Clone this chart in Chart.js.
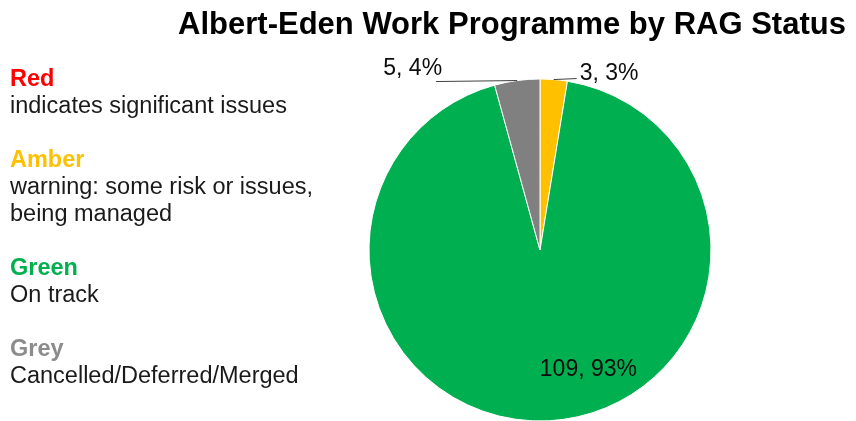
<!DOCTYPE html>
<html>
<head>
<meta charset="utf-8">
<title>Albert-Eden Work Programme by RAG Status</title>
<script src="https://cdn.jsdelivr.net/npm/chart.js@4.4.1/dist/chart.umd.min.js"></script>
<style>
  html, body { margin: 0; padding: 0; background: #fff; }
  #wrap { width: 856px; height: 421px; position: relative; }
</style>
</head>
<body>
<div id="wrap"><canvas id="ragChart"></canvas></div>
<script>
// RAG categories, their key text and project counts
const statuses = ['Red', 'Amber', 'Green', 'Grey'];
const descriptions = [
    ['indicates significant issues'],
    ['warning: some risk or issues,', 'being managed'],
    ['On track'],
    ['Cancelled/Deferred/Merged']
];
const projectCounts = [0, 3, 109, 5];
const sliceColours = ['#FF0000', '#FFC000', '#00B050', '#808080'];
const keyColours = ['#FF0000', '#FFC000', '#00B050', '#8C8C8C'];
const chartTitle = 'Albert-Eden Work Programme by RAG Status';

const FONT = '"Liberation Sans", Arial, sans-serif';

/**
 * Title, the status key on the left and the "count, %" labels
 */
const ragLabels = {
    id: 'ragLabels',
    afterDraw(chart) {
        const ctx = chart.ctx;
        const total = projectCounts.reduce((a, b) => a + b, 0);
        ctx.save();

        // Title
        ctx.fillStyle = '#000';
        ctx.font = 'bold 31px ' + FONT;
        ctx.textAlign = 'center';
        ctx.textBaseline = 'alphabetic';
        ctx.fillText(chartTitle, 512, 34);

        // Status key
        let y = 86;
        ctx.textAlign = 'left';
        statuses.forEach((name, i) => {
            ctx.font = 'bold 23.5px ' + FONT;
            ctx.fillStyle = keyColours[i];
            ctx.fillText(name, 10, y);
            ctx.font = '23.5px ' + FONT;
            ctx.fillStyle = '#1a1a1a';
            descriptions[i].forEach(line => {
                y += 27;
                ctx.fillText(line, 10, y);
            });
            y += 54;
        });

        // Data labels
        const meta = chart.getDatasetMeta(0);
        ctx.font = '23px ' + FONT;
        ctx.fillStyle = '#0d0d0d';
        ctx.strokeStyle = '#404040';
        ctx.lineWidth = 1;
        meta.data.forEach((arc, i) => {
            const value = projectCounts[i];
            if (!value) return;
            const text = value + ', ' + Math.round(value / total * 100) + '%';
            const mid = (arc.startAngle + arc.endAngle) / 2;
            const r = arc.outerRadius;

            if (value / total < 0.1) {
                // small slices: callout with a leader line from the rim
                const px = arc.x + Math.cos(mid) * r;
                const py = arc.y + Math.sin(mid) * r;
                const right = Math.cos(mid) >= 0;
                const ex = right ? px + 23 : px - 81;
                const ey = right ? py - 1 : py + 1;
                ctx.beginPath();
                ctx.moveTo(px, py);
                ctx.lineTo(ex, ey);
                ctx.stroke();
                if (right) {
                    ctx.textAlign = 'left';
                    ctx.fillText(text, ex + 3, ey + 1);
                } else {
                    ctx.textAlign = 'right';
                    ctx.fillText(text, ex + 6, ey - 7);
                }
            } else {
                const px = arc.x + Math.cos(mid) * r * 0.7 + 42;
                const py = arc.y + Math.sin(mid) * r * 0.7;
                ctx.textAlign = 'center';
                ctx.fillText(text, px, py + 6);
            }
        });
        ctx.restore();
    }
};

new Chart(document.getElementById('ragChart'), {
    type: 'pie',
    data: {
        labels: statuses,
        datasets: [{
            data: projectCounts,
            backgroundColor: sliceColours,
            borderColor: '#ffffff',
            borderWidth: 1,
            hoverOffset: 0
        }]
    },
    options: {
        responsive: true,
        maintainAspectRatio: false,
        animation: false,
        radius: 171,
        layout: {
            padding: { left: 369, right: 145, top: 79, bottom: 0 }
        },
        plugins: {
            legend: { display: false },
            title: { display: false },
            tooltip: { enabled: false }
        }
    },
    plugins: [ragLabels]
});
</script>
</body>
</html>
